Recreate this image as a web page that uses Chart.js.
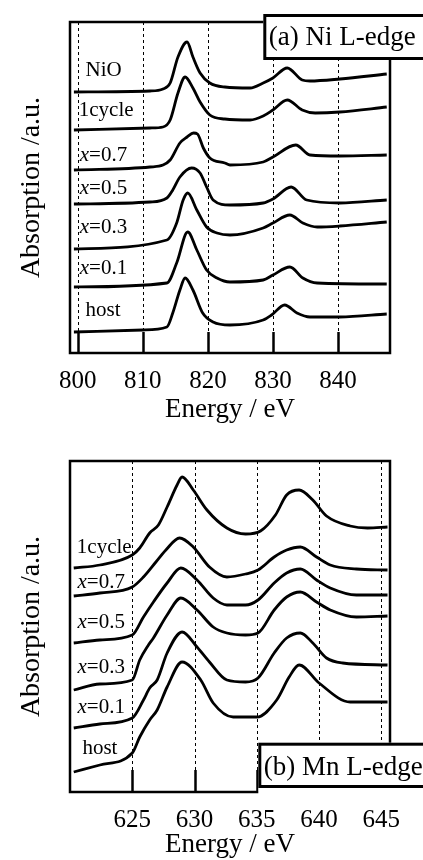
<!DOCTYPE html>
<html>
<head>
<meta charset="utf-8">
<script src="https://cdn.jsdelivr.net/npm/chart.js@4.4.1/dist/chart.umd.min.js"></script>
<style>
  body { margin: 0; background: #fff; }
  #wrap { position: relative; width: 423px; height: 860px; }
  canvas { position: absolute; left: 0; }
</style>
</head>
<body>
<div id="wrap">
  <canvas id="niChart" width="423" height="430" style="top:0"></canvas>
  <canvas id="mnChart" width="423" height="430" style="top:430px"></canvas>
</div>
<script>
// (a) Ni L-edge : [energy eV, absorption a.u.]
const niNames = ['NiO', '1cycle', 'x=0.7', 'x=0.5', 'x=0.3', 'x=0.1', 'host'];
const niTicks = [800, 810, 820, 830, 840];
const niNiO = [[799.4,26.1],[811.1,26.2],[813.1,26.4],[814.2,27.0],[815.4,29.6],[816.8,31.1],[817.7,29.6],[818.8,28.0],[820.3,27.0],[822.6,26.6],[826.5,26.5],[828.5,27.0],[830.0,27.5],[832.2,28.5],[834.5,27.3],[835.7,27.2],[840.3,27.4],[847.5,27.9]];
const ni1cycle = [[799.4,22.3],[811.1,22.5],[813.1,22.6],[814.2,23.3],[815.4,26.0],[816.5,27.6],[817.7,26.5],[818.8,25.1],[820.3,23.8],[822.6,23.4],[826.5,23.3],[828.5,23.7],[830.0,24.3],[832.2,25.3],[834.5,24.3],[836.5,24.0],[840.3,24.1],[847.5,24.6]];
const ni07 = [[799.4,18.3],[811.1,18.6],[813.1,18.8],[814.2,19.3],[815.7,21.0],[816.8,21.6],[817.8,22.0],[818.4,21.9],[819.3,20.5],[820.3,19.5],[822.6,19.0],[823.4,18.8],[828.5,19.1],[830.0,19.6],[833.5,20.8],[835.7,19.8],[840.3,19.7],[847.5,19.8]];
const ni05 = [[799.4,14.9],[811.1,15.1],[813.7,15.5],[814.6,16.3],[815.7,17.6],[817.5,18.5],[818.8,18.0],[819.8,16.6],[820.8,15.3],[823.4,14.8],[828.5,15.0],[830.0,15.4],[832.8,16.6],[835.2,15.3],[840.3,15.0],[847.5,15.3]];
const ni03 = [[799.4,10.4],[813.7,11.3],[815.2,13.0],[816.2,15.3],[816.9,16.0],[818.3,14.3],[819.8,12.6],[821.4,12.0],[823.4,11.8],[828.5,12.5],[830.0,13.0],[832.6,13.8],[834.6,13.0],[836.8,12.6],[840.3,12.7],[847.5,13.1]];
const ni01 = [[799.4,6.6],[813.7,7.0],[815.2,9.0],[816.9,12.1],[818.3,10.3],[819.8,8.3],[821.4,7.5],[823.4,7.1],[828.5,7.3],[830.0,7.8],[832.6,8.6],[834.6,7.5],[836.8,7.0],[847.5,6.9]];
const niHost = [[799.4,2.1],[810.0,2.3],[813.7,2.6],[814.6,4.0],[815.7,6.3],[816.5,7.5],[817.7,6.3],[819.2,4.0],[820.8,3.1],[823.4,2.8],[828.5,3.3],[829.8,3.8],[831.8,4.8],[833.7,4.0],[835.7,3.6],[840.3,3.6],[847.5,3.9]];
const niNameAt = [[801.2,28.3],[800.15,24.3],[800.3,19.8],[800.3,16.5],[800.3,12.6],[800.3,8.5],[801.2,4.3]];

// (b) Mn L-edge : [energy eV, absorption a.u.]
const mnNames = ['1cycle', 'x=0.7', 'x=0.5', 'x=0.3', 'x=0.1', 'host'];
const mnTicks = [625, 630, 635, 640, 645];
const mn1cycle = [[620.3,22.4],[622.4,22.7],[625.0,23.7],[625.6,24.4],[626.4,25.9],[627.1,26.7],[627.8,28.5],[628.6,30.7],[629.0,31.5],[629.9,30.2],[631.0,28.2],[632.6,26.4],[634.1,25.8],[635.3,26.1],[636.5,27.7],[637.4,29.7],[638.4,30.2],[639.5,29.2],[640.6,27.6],[642.5,26.6],[643.9,26.4],[645.5,26.5]];
const mn07 = [[620.3,19.6],[622.4,19.9],[625.0,20.5],[625.9,21.5],[626.9,23.0],[627.7,24.2],[628.8,25.4],[629.9,24.5],[631.2,22.5],[632.6,21.5],[634.1,21.8],[635.1,22.2],[636.4,23.5],[637.4,24.2],[638.5,24.5],[639.8,23.5],[640.9,22.7],[643.0,22.3],[645.5,22.2]];
const mn05 = [[620.3,14.9],[622.4,15.2],[625.0,15.7],[625.9,17.5],[626.7,19.0],[627.8,20.9],[628.9,22.4],[630.2,21.2],[631.5,19.4],[632.6,18.7],[634.1,18.7],[635.1,19.2],[636.4,20.9],[637.4,21.9],[638.5,22.3],[639.8,21.2],[640.9,20.4],[643.0,19.7],[645.5,19.7]];
const mn03 = [[620.3,10.2],[622.4,10.8],[625.0,11.2],[625.6,13.2],[626.3,14.7],[626.7,15.4],[627.8,17.7],[628.9,19.4],[630.2,18.2],[631.5,16.5],[632.6,15.9],[634.1,15.7],[635.1,15.9],[636.4,18.2],[637.4,19.5],[638.5,20.0],[639.8,19.0],[640.9,18.2],[643.0,17.5],[645.5,17.6]];
const mn01 = [[620.3,6.4],[622.4,6.8],[625.0,7.4],[625.9,9.2],[626.4,10.4],[627.0,11.2],[627.8,13.9],[629.0,16.0],[630.2,14.5],[631.2,13.0],[632.6,11.2],[634.1,11.0],[635.1,11.4],[636.4,13.9],[637.4,15.4],[638.5,15.9],[639.5,14.9],[640.6,13.4],[641.9,12.9],[645.5,12.7]];
const mnHost = [[620.3,2.0],[622.4,2.7],[625.0,3.9],[625.6,5.5],[626.4,7.2],[627.0,8.2],[627.8,10.5],[629.0,13.0],[630.5,11.2],[631.5,8.9],[633.1,7.5],[635.0,7.5],[636.6,9.2],[637.6,11.5],[638.4,12.7],[640.0,10.9],[642.5,9.0],[645.5,9.0]];
const mnNameAt = [[620.55,24.5],[620.6,21.0],[620.6,17.0],[620.6,12.5],[620.6,8.5],[621.0,4.4]];

const serif = '"Liberation Serif", "Times New Roman", serif';

// dashed guides, inner ticks, frame, curve names and the panel tag
function decor(cfg) {
    return {
        id: 'decor',
        beforeDatasetsDraw(chart) {
            const { ctx, chartArea: a, scales: { x } } = chart;
            ctx.save();
            ctx.strokeStyle = '#000';
            cfg.ticks.forEach(v => {
                const px = Math.round(x.getPixelForValue(v)) + 0.5;
                ctx.lineWidth = 1;
                ctx.setLineDash([3, 3]);
                ctx.beginPath();
                ctx.moveTo(px, a.top);
                ctx.lineTo(px, a.bottom - cfg.tickLen);
                ctx.stroke();
                ctx.setLineDash([]);
                ctx.lineWidth = 2.5;
                ctx.beginPath();
                ctx.moveTo(px, a.bottom - cfg.tickLen);
                ctx.lineTo(px, a.bottom);
                ctx.stroke();
            });
            ctx.restore();
        },
        afterDraw(chart) {
            const { ctx, chartArea: a, scales: { x, y } } = chart;
            ctx.save();
            ctx.strokeStyle = '#000';
            ctx.lineWidth = 2.5;
            ctx.strokeRect(a.left, a.top, a.right - a.left, a.bottom - a.top);

            ctx.fillStyle = '#000';
            ctx.textBaseline = 'middle';
            cfg.names.forEach((name, i) => {
                let px = x.getPixelForValue(cfg.nameAt[i][0]);
                const py = y.getPixelForValue(cfg.nameAt[i][1]);
                if (name.startsWith('x')) {
                    ctx.font = 'italic 21px ' + serif;
                    ctx.fillText('x', px, py);
                    px += ctx.measureText('x').width;
                    name = name.slice(1);
                }
                ctx.font = '21px ' + serif;
                ctx.fillText(name, px, py);
            });

            // panel tag (white box over the frame)
            const t = cfg.tag;
            ctx.fillStyle = '#fff';
            ctx.fillRect(t.x - 1.5, t.y - 1.5, t.w + 3, t.h + 3 + t.cover);
            ctx.lineWidth = 3;
            ctx.strokeRect(t.x, t.y, t.w, t.h);
            ctx.fillStyle = '#000';
            ctx.font = '27px ' + serif;
            ctx.textBaseline = 'alphabetic';
            ctx.fillText(t.text, t.x + 4, t.base);
            ctx.restore();
        }
    };
}

function crearPanel(id, series, ticks, xmin, xmax, padTop, xAxisH, titlePad, cfg) {
    const ctx = document.getElementById(id).getContext('2d');
    new Chart(ctx, {
        type: 'line',
        data: {
            datasets: series.map(pts => ({
                data: pts.map(p => ({ x: p[0], y: p[1] })),
                borderColor: '#000',
                borderWidth: 2.8,
                pointRadius: 0,
                fill: false,
                cubicInterpolationMode: 'monotone'
            }))
        },
        options: {
            responsive: false,
            animation: false,
            layout: { padding: { top: padTop, right: 33, bottom: 0, left: 0 } },
            plugins: { legend: { display: false }, tooltip: { enabled: false } },
            scales: {
                x: {
                    type: 'linear',
                    min: xmin,
                    max: xmax,
                    afterBuildTicks: axis => { axis.ticks = ticks.map(v => ({ value: v })); },
                    afterFit: axis => { axis.height = xAxisH; },
                    grid: { display: false, drawTicks: false },
                    border: { display: false },
                    ticks: { color: '#000', font: { family: serif, size: 25 }, padding: 13, maxRotation: 0, autoSkip: false },
                    title: {
                        display: true, text: 'Energy / eV', color: '#000',
                        font: { family: serif, size: 27, lineHeight: 1.1 },
                        padding: { top: 0, bottom: titlePad }
                    }
                },
                y: {
                    min: 0,
                    max: 33.1,
                    afterFit: axis => { axis.width = 70; },
                    grid: { display: false, drawTicks: false },
                    border: { display: false },
                    ticks: { display: false },
                    title: {
                        display: true, text: 'Absorption /a.u.', color: '#000',
                        font: { family: serif, size: 28, lineHeight: 1.1 },
                        padding: { top: 16, bottom: 0 }
                    }
                }
            }
        },
        plugins: [decor(cfg)]
    });
}

document.addEventListener('DOMContentLoaded', () => {
    crearPanel('niChart', [niNiO, ni1cycle, ni07, ni05, ni03, ni01, niHost], niTicks,
        798.8, 848, 22, 77, 5,
        { ticks: niTicks, tickLen: 21, names: niNames, nameAt: niNameAt,
          tag: { text: '(a) Ni L-edge', x: 264.8, y: 15.5, w: 170, h: 43, base: 45, cover: 0 } });
    crearPanel('mnChart', [mn1cycle, mn07, mn05, mn03, mn01, mnHost], mnTicks,
        620, 645.7, 31, 68, 0,
        { ticks: mnTicks, tickLen: 22, names: mnNames, nameAt: mnNameAt,
          tag: { text: '(b) Mn L-edge', x: 259.8, y: 314.2, w: 170, h: 42.3, base: 345, cover: 8 } });
});
</script>
</body>
</html>
